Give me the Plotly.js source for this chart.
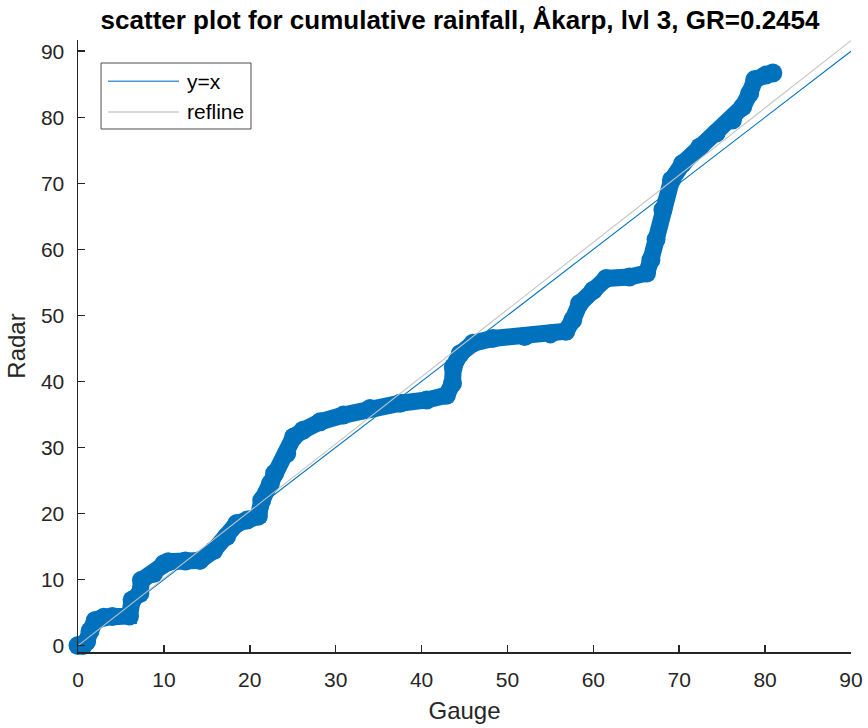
<!DOCTYPE html>
<html>
<head>
<meta charset="utf-8">
<script src="https://cdn.plot.ly/plotly-3.0.1.min.js"></script>
<style>html,body{margin:0;padding:0;background:#fff;}#chart{width:868px;height:728px;}</style>
</head>
<body>
<div id="chart"></div>
<script>
// Gauge vs radar cumulative rainfall
const gauge = [0, 0.6, 1.0, 1.4, 2.0, 3.0, 4.0, 6.0, 6.3, 7.2, 7.4, 8.8, 10.0, 10.5, 12.5, 14.2, 15.8, 17.3, 18.5, 19.7, 21.0, 21.4, 22.4, 22.9, 24.3, 25.1, 26.2, 28.2, 30.9, 34.0, 37.5, 40.6, 42.9, 43.6, 43.7, 44.5, 46.0, 48.3, 52.0, 55.0, 56.8, 57.6, 58.4, 60.0, 61.5, 64.2, 66.2, 66.7, 67.3, 68.1, 69.1, 70.4, 72.4, 74.3, 76.2, 77.4, 78.2, 78.8, 80.1, 80.9];
const radar = [0, 0, 0.6, 2.2, 3.8, 4.3, 4.4, 4.5, 6.9, 7.9, 9.9, 10.9, 12.4, 12.7, 12.8, 12.9, 14.4, 16.5, 18.5, 19.0, 19.6, 22.0, 24.5, 26.1, 29.1, 31.6, 32.6, 33.9, 34.9, 35.9, 36.7, 37.2, 37.9, 39.7, 42.2, 44.2, 45.8, 46.5, 46.8, 47.2, 47.6, 49.3, 51.8, 53.8, 55.6, 55.8, 56.4, 58.4, 61.5, 66.0, 70.5, 73.0, 75.5, 77.6, 79.6, 81.6, 83.6, 85.7, 86.4, 86.7];
// Reference lines
const identityX = [0, 90];
const identityY = [0, 90];
const reflineX = [0, 90];
const reflineY = [0, 91.6];
const xTicks = [0, 10, 20, 30, 40, 50, 60, 70, 80, 90];
const yTicks = [0, 10, 20, 30, 40, 50, 60, 70, 80, 90];
const legendNames = ['y=x', 'refline'];

const FONT = 'Liberation Sans, Arial, Helvetica, sans-serif';
const AX = '#262626';
const BLUE = '#0072BD';
const GREY = '#c4c4c4';

const traces = [
  {x: gauge, y: radar, type: 'scatter', mode: 'lines+markers', showlegend: false, cliponaxis: false,
   line: {color: BLUE, width: 17},
   marker: {symbol: 'circle', size: 19, color: BLUE}},
  {x: identityX, y: identityY, type: 'scatter', mode: 'lines', name: legendNames[0], showlegend: false,
   line: {color: BLUE, width: 1.1}},
  {x: reflineX, y: reflineY, type: 'scatter', mode: 'lines', name: legendNames[1], showlegend: false,
   line: {color: GREY, width: 1.1}}
];

// legend box drawn in paper coordinates (MATLAB-style legend)
const legBox = {x0: 0.0298, x1: 0.2238, y0: 0.8546, y1: 0.9624};
const legRows = [0.9325, 0.8824];
const legColors = ['#4a9ad6', '#cccccc'];

const shapes = [
  {type: 'rect', xref: 'paper', yref: 'paper', x0: legBox.x0, x1: legBox.x1, y0: legBox.y0, y1: legBox.y1,
   line: {color: '#4d4d4d', width: 1}, fillcolor: '#fff', layer: 'above'}
];
const annotations = [];
legRows.forEach((yy, i) => {
  shapes.push({type: 'line', xref: 'paper', yref: 'paper', x0: 0.0388, x1: 0.1307, y0: yy, y1: yy,
               line: {color: legColors[i], width: 1.6}, layer: 'above'});
  annotations.push({xref: 'paper', yref: 'paper', x: 0.1384, y: yy, xanchor: 'left', yanchor: 'middle',
                    text: legendNames[i], showarrow: false, font: {size: 21, color: '#000', family: FONT}});
});

const layout = {
  width: 868, height: 728,
  margin: {l: 78, r: 17, t: 40, b: 76, pad: 0},
  paper_bgcolor: '#fff', plot_bgcolor: '#fff',
  font: {family: FONT, color: AX, size: 21},
  title: {text: '<b>scatter plot for cumulative rainfall, Åkarp, lvl 3, GR=0.2454</b>',
          font: {family: FONT, size: 26, color: '#000'}, x: 0.53, xanchor: 'center', y: 0.973, yanchor: 'middle'},
  xaxis: {range: [0, 90], tickvals: xTicks, ticktext: xTicks.map(String),
          showgrid: false, zeroline: false, showline: true, linecolor: AX, linewidth: 1.5,
          ticks: 'inside', ticklen: 7, tickwidth: 1.5, tickcolor: AX,
          ticklabelstandoff: 8, tickfont: {size: 21, color: AX},
          title: {text: 'Gauge', font: {size: 24, color: AX}, standoff: 12}},
  yaxis: {range: [-0.97, 91.7], tickvals: yTicks, ticktext: yTicks.map(String),
          showgrid: false, zeroline: false, showline: true, linecolor: AX, linewidth: 1.5,
          ticks: 'inside', ticklen: 7, tickwidth: 1.5, tickcolor: AX,
          ticklabelstandoff: 8, tickfont: {size: 21, color: AX},
          title: {text: 'Radar', font: {size: 24, color: AX}, standoff: 8}},
  shapes: shapes,
  annotations: annotations,
  showlegend: false
};

Plotly.newPlot('chart', traces, layout, {displayModeBar: false, staticPlot: true});
</script>
</body>
</html>
